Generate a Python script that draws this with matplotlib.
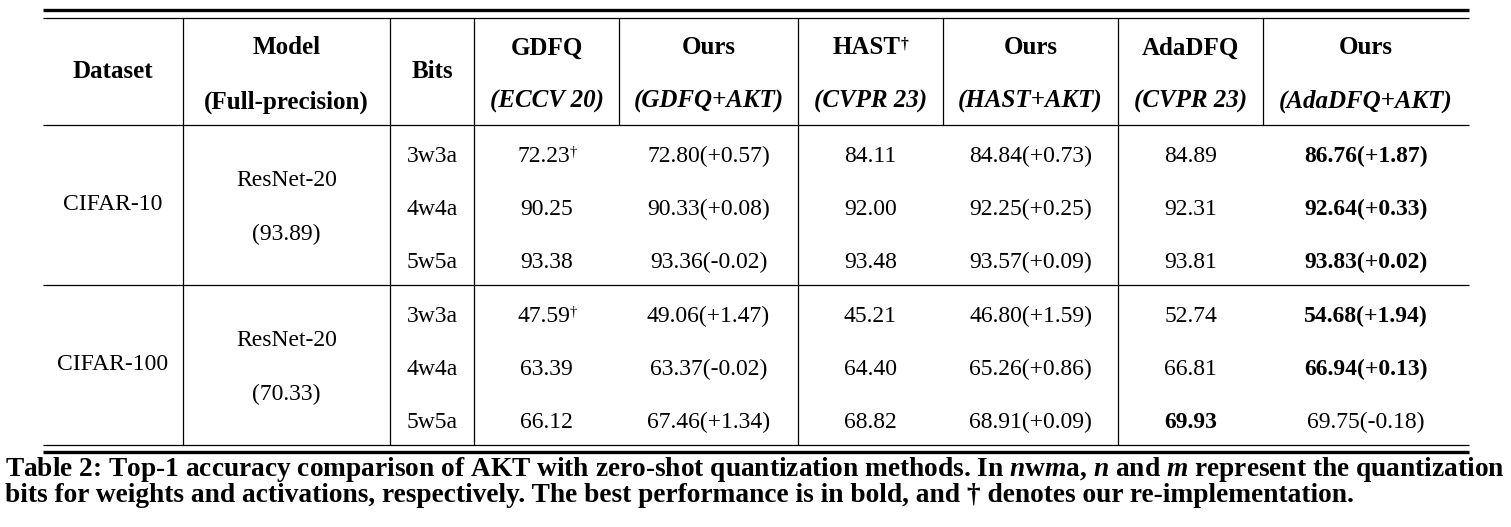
import matplotlib
matplotlib.use("Agg")
import matplotlib.pyplot as plt

plt.rcParams["font.family"] = ["Liberation Serif", "DejaVu Serif"]
plt.rcParams["mathtext.fontset"] = "custom"
plt.rcParams["mathtext.rm"] = "Liberation Serif"
plt.rcParams["mathtext.bf"] = "Liberation Serif:bold"
plt.rcParams["mathtext.it"] = "Liberation Serif:italic:bold"

# ---- data ----
datasets = ["CIFAR-10", "CIFAR-100"]
models = ["ResNet-20", "ResNet-20"]
full_prec = ["(93.89)", "(70.33)"]
bits = ["3w3a", "4w4a", "5w5a"]
methods = ["GDFQ", "Ours", "HAST", "Ours", "AdaDFQ", "Ours"]
venues = ["(ECCV 20)", "(GDFQ+AKT)", "(CVPR 23)", "(HAST+AKT)", "(CVPR 23)", "(AdaDFQ+AKT)"]
gdfq = [[72.23, 90.25, 93.38], [47.59, 63.39, 66.12]]
gdfq_akt = [[72.80, 90.33, 93.36], [49.06, 63.37, 67.46]]
hast = [[84.11, 92.00, 93.48], [45.21, 64.40, 68.82]]
hast_akt = [[84.84, 92.25, 93.57], [46.80, 65.26, 68.91]]
adadfq = [[84.89, 92.31, 93.81], [52.74, 66.81, 69.93]]
adadfq_akt = [[86.76, 92.64, 93.83], [54.68, 66.94, 69.75]]
# re-implemented GDFQ results (marked with dagger)
gdfq_reimpl = [[True, False, False], [True, False, False]]

FS = 17      # body
FSH = 18     # bold header
fig = plt.figure(figsize=(15.11, 5.27), dpi=100)
ax = fig.add_axes([0, 0, 1, 1])
ax.set_xlim(0, 1511)
ax.set_ylim(527, 0)
ax.axis("off")

# column borders (pixel layout)
L, R = 43, 1469
vx = [183, 390, 474, 619, 798, 943, 1118, 1263]
edges = [L] + vx + [R]
cx = [(a + b) / 2 for a, b in zip(edges[:-1], edges[1:])]
TOP, TOP2, HB, SEP, BOT2, BOT = 9.5, 18, 125, 285, 445, 451.5
thin, thick = 0.9, 2.4

ax.hlines([TOP], L, R, color="black", lw=thick)
ax.hlines([TOP2, HB, SEP, BOT2], L, R, color="black", lw=thin)
ax.hlines([BOT], L, R, color="black", lw=thick)
for x in vx:
    header_only = x in (619, 943, 1263)
    ax.vlines(x, TOP2, HB if header_only else BOT2, color="black", lw=thin)


def dagger(t, size):
    ax.annotate("†", xy=(1.0, 1.0), xycoords=t, ha="left", va="top",
                fontsize=size * 0.62, fontweight=t.get_fontweight())


# ---- header ----
ax.text(cx[0], 71, "Dataset", ha="center", va="center", fontsize=FSH, fontweight="bold")
ax.text(cx[1], 48, "Model", ha="center", va="center", fontsize=FSH, fontweight="bold")
ax.text(cx[1], 102, "(Full-precision)", ha="center", va="center", fontsize=FSH, fontweight="bold")
ax.text(cx[2], 71, "Bits", ha="center", va="center", fontsize=FSH, fontweight="bold")
for j, (m, v) in enumerate(zip(methods, venues)):
    if m == "HAST":
        t = ax.text(cx[3 + j] - 4, 48, m, ha="center", va="center", fontsize=FSH, fontweight="bold")
        dagger(t, FSH)
    else:
        ax.text(cx[3 + j], 48, m, ha="center", va="center", fontsize=FSH, fontweight="bold")
    ax.text(cx[3 + j], 101, v, ha="center", va="center", fontsize=FSH,
            fontweight="bold", fontstyle="italic")

# ---- body ----
pairs = [(gdfq, gdfq_akt), (hast, hast_akt), (adadfq, adadfq_akt)]
for d, name in enumerate(datasets):
    top = HB if d == 0 else SEP
    ax.text(cx[0], top + 80, name, ha="center", va="center", fontsize=FS)
    ax.text(cx[1], top + 56, models[d], ha="center", va="center", fontsize=FS)
    ax.text(cx[1], top + 109, full_prec[d], ha="center", va="center", fontsize=FS)
    for r, b in enumerate(bits):
        y = top + 31 + r * 53.3
        ax.text(cx[2], y, b, ha="center", va="center", fontsize=FS)
        vals = [v[d][r] for p in pairs for v in p]
        best = max(vals)
        for k, (base, akt) in enumerate(pairs):
            bv, av = base[d][r], akt[d][r]
            mark = k == 0 and gdfq_reimpl[d][r]
            tb = ax.text(cx[3 + 2 * k] - (3 if mark else 0), y, f"{bv:.2f}",
                         ha="center", va="center", fontsize=FS,
                         fontweight="bold" if bv == best else "normal")
            if mark:
                dagger(tb, FS)
            delta = round(av - bv, 2)
            ax.text(cx[4 + 2 * k], y, f"{av:.2f}({delta:+.2f})", ha="center", va="center",
                    fontsize=FS, fontweight="bold" if av == best else "normal")

# ---- caption ----
cap1 = ("Table 2: Top-1 accuracy comparison of AKT with zero-shot quantization methods. "
        "In $n$w$m$a, $n$ and $m$ represent the quantization")
cap2 = ("bits for weights and activations, respectively. The best performance is in bold, "
        "and † denotes our re-implementation.")
t1 = ax.text(5, 470, cap1, ha="left", va="center", fontsize=FS, fontweight="bold")
t2 = ax.text(5, 496, cap2, ha="left", va="center", fontsize=FS, fontweight="bold")
rend = fig.canvas.get_renderer()
w = t1.get_window_extent(rend).width
fs_cap = FS * 1500 / w
t1.set_fontsize(fs_cap)
t2.set_fontsize(fs_cap)

fig.savefig("out.png", dpi=100)
